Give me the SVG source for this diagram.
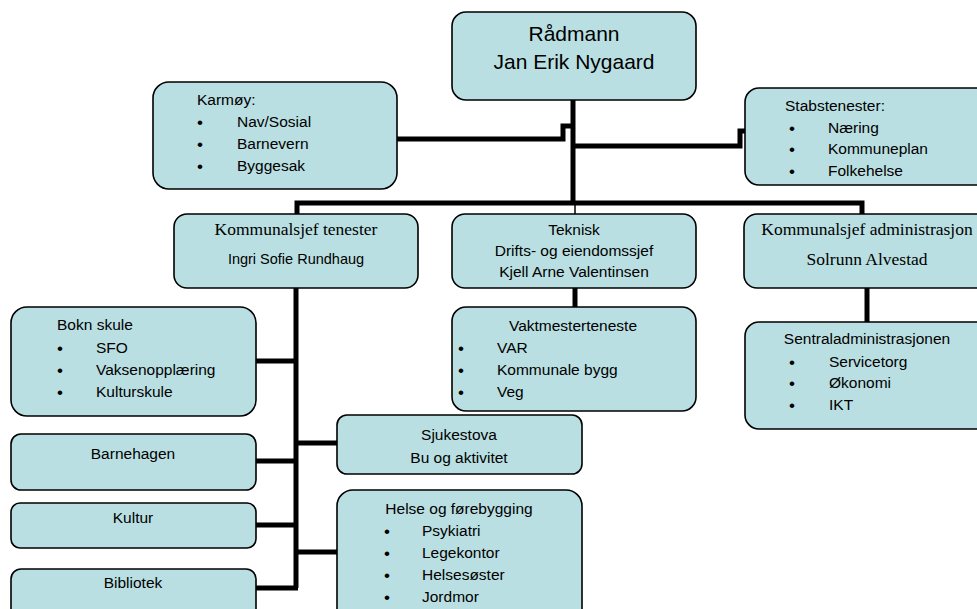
<svg xmlns="http://www.w3.org/2000/svg" width="977" height="609" viewBox="0 0 977 609">
<style>
.box{fill:#b9dfe2;stroke:#000;stroke-width:1.6}
.t{font-family:"Liberation Sans",Arial,sans-serif;font-size:15.5px;fill:#000}
.n{font-size:14.5px}
.c{text-anchor:middle}
.s{font-family:"Liberation Serif","Times New Roman",serif;font-size:17.5px;fill:#000}
.big{font-size:21px}
.b{font-family:"Liberation Sans",Arial,sans-serif;font-size:17px;fill:#000}
.ln{fill:none;stroke:#000;stroke-width:5}
.thin{fill:none;stroke:#000;stroke-width:1.5}
</style>
<rect width="977" height="609" fill="#fff"/>
<g id="connectors">
<path class="ln" d="M573,100 V205"/>
<path class="ln" d="M397,139 H563 V126 H573"/>
<path class="ln" d="M573,146 H740 V131 H746"/>
<path class="ln" d="M297,215 V203 H862 V215"/>
<path class="thin" d="M575,203 V214"/>
<path class="ln" d="M296,288 V588"/>
<path class="ln" d="M575,288 V308"/>
<path class="ln" d="M867,288 V323"/>
<path class="ln" d="M256,361 H296"/>
<path class="ln" d="M256,461 H296"/>
<path class="ln" d="M256,525 H296"/>
<path class="ln" d="M256,588 H298"/>
<path class="ln" d="M296,443 H338"/>
<path class="ln" d="M296,552 H338"/>
</g>
<g id="radmann">
<rect class="box" x="452" y="12" width="244" height="88" rx="14"/>
<text class="t c big" x="574" y="41">Rådmann</text>
<text class="t c big" x="574" y="69">Jan Erik Nygaard</text>
</g>
<g id="karmoy">
<rect class="box" x="153" y="82" width="244" height="107" rx="16"/>
<text class="t" x="197" y="105">Karmøy:</text>
<text class="b" x="197" y="128">•</text><text class="t" x="237" y="127">Nav/Sosial</text>
<text class="b" x="197" y="150">•</text><text class="t" x="237" y="149">Barnevern</text>
<text class="b" x="197" y="172">•</text><text class="t" x="237" y="171">Byggesak</text>
</g>
<g id="stab">
<rect class="box" x="745" y="88" width="245" height="97" rx="14"/>
<text class="t" x="785" y="111">Stabstenester:</text>
<text class="b" x="789" y="134">•</text><text class="t" x="828" y="133">Næring</text>
<text class="b" x="789" y="155">•</text><text class="t" x="828" y="154">Kommuneplan</text>
<text class="b" x="789" y="177">•</text><text class="t" x="828" y="176">Folkehelse</text>
</g>
<g id="tenester">
<rect class="box" x="174" y="214" width="244" height="74" rx="13"/>
<text class="s c" x="296" y="235">Kommunalsjef tenester</text>
<text class="t c n" x="296" y="264">Ingri Sofie Rundhaug</text>
</g>
<g id="teknisk">
<rect class="box" x="452" y="214" width="244" height="74" rx="13"/>
<text class="t c" x="574" y="235">Teknisk</text>
<text class="t c" x="574" y="256">Drifts- og eiendomssjef</text>
<text class="t c" x="574" y="277">Kjell Arne Valentinsen</text>
</g>
<g id="administrasjon">
<rect class="box" x="744" y="214" width="246" height="74" rx="13"/>
<text class="s c" x="867" y="235">Kommunalsjef administrasjon</text>
<text class="s c" x="867" y="265">Solrunn Alvestad</text>
</g>
<g id="vaktmester">
<rect class="box" x="452" y="307" width="244" height="104" rx="14"/>
<text class="t c" x="573" y="331">Vaktmesterteneste</text>
<text class="b" x="458" y="354">•</text><text class="t" x="497" y="353">VAR</text>
<text class="b" x="458" y="376">•</text><text class="t" x="497" y="375">Kommunale bygg</text>
<text class="b" x="458" y="398">•</text><text class="t" x="497" y="397">Veg</text>
</g>
<g id="sentraladm">
<rect class="box" x="745" y="322" width="245" height="107" rx="14"/>
<text class="t c" x="867" y="344">Sentraladministrasjonen</text>
<text class="b" x="789" y="368">•</text><text class="t" x="829" y="367">Servicetorg</text>
<text class="b" x="789" y="389">•</text><text class="t" x="829" y="388">Økonomi</text>
<text class="b" x="789" y="411">•</text><text class="t" x="829" y="410">IKT</text>
</g>
<g id="bokn">
<rect class="box" x="11" y="307" width="245" height="109" rx="16"/>
<text class="t" x="57" y="330">Bokn skule</text>
<text class="b" x="57" y="354">•</text><text class="t" x="96" y="353">SFO</text>
<text class="b" x="57" y="376">•</text><text class="t" x="96" y="375">Vaksenopplæring</text>
<text class="b" x="57" y="398">•</text><text class="t" x="96" y="397">Kulturskule</text>
</g>
<g id="barnehagen">
<rect class="box" x="11" y="434" width="245" height="56" rx="10"/>
<text class="t c" x="133" y="459">Barnehagen</text>
</g>
<g id="kultur">
<rect class="box" x="11" y="503" width="245" height="45" rx="9"/>
<text class="t c" x="133" y="523">Kultur</text>
</g>
<g id="bibliotek">
<rect class="box" x="11" y="569" width="245" height="60" rx="10"/>
<text class="t c" x="133" y="588">Bibliotek</text>
</g>
<g id="sjukestova">
<rect class="box" x="337" y="415" width="245" height="59" rx="10"/>
<text class="t c" x="459" y="440">Sjukestova</text>
<text class="t c" x="459" y="463">Bu og aktivitet</text>
</g>
<g id="helse">
<rect class="box" x="337" y="490" width="245" height="135" rx="16"/>
<text class="t c" x="459" y="514">Helse og førebygging</text>
<text class="b" x="384" y="537">•</text><text class="t" x="422" y="536">Psykiatri</text>
<text class="b" x="384" y="559">•</text><text class="t" x="422" y="558">Legekontor</text>
<text class="b" x="384" y="581">•</text><text class="t" x="422" y="580">Helsesøster</text>
<text class="b" x="384" y="603">•</text><text class="t" x="422" y="602">Jordmor</text>
</g>
</svg>
